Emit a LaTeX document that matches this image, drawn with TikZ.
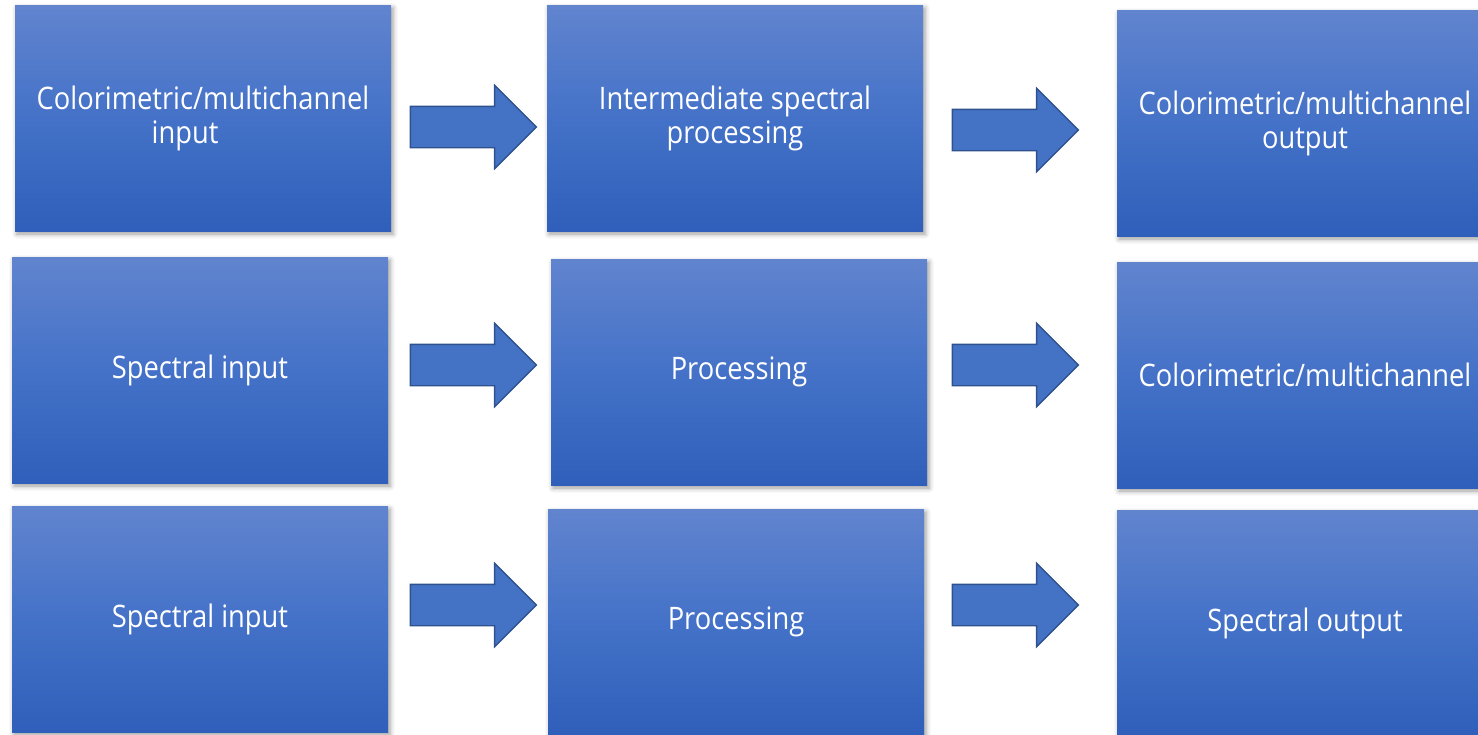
\documentclass[tikz,border=0pt]{standalone}
\usepackage{fontspec}
\setmainfont{Open Sans}[FakeStretch=0.88]
\usepackage{xcolor}
\definecolor{boxtop}{RGB}{97,132,206}
\definecolor{boxmid}{RGB}{68,114,200}
\definecolor{boxbot}{RGB}{47,95,186}
\definecolor{arrowfill}{RGB}{68,114,196}
\definecolor{arrowedge}{RGB}{47,82,143}
\usetikzlibrary{shapes.arrows}
\usetikzlibrary{shadows.blur}
\tikzset{stagebox/.style={rectangle, minimum width=188pt, minimum height=113pt, inner sep=0pt,
			top color=boxtop, bottom color=boxbot, middle color=boxmid, draw=none,
			text=white, align=center, font=\fontsize{15.5pt}{17pt}\selectfont,
			blur shadow={shadow xshift=1pt, shadow yshift=-1.5pt, shadow blur radius=2.5pt, shadow opacity=40}},
	flowarrow/.style={single arrow, draw=arrowedge, fill=arrowfill, line width=0.7pt,
			minimum height=63pt, inner xsep=0pt, inner ysep=10pt,
			single arrow head extend=10.5pt, single arrow tip angle=90}}

\begin{document}
\begin{tikzpicture}[x=0.5pt, y=-0.5pt]
\useasboundingbox (0,0) rectangle (1478,734);

% top row
\node[stagebox] (colin) at (203,118) {Colorimetric/multichannel\\input\hspace*{18pt}};
\node[stagebox] (interproc) at (735,118) {Intermediate spectral\\processing};
\node[stagebox] (colout) at (1305,123) {Colorimetric/multichannel\\output};
\node[flowarrow] (arrA) at (463,127) {};
\node[flowarrow] (arrB) at (1005,130) {};

% middle row
\node[stagebox] (specinA) at (200,370) {Spectral input};
\node[stagebox] (procA) at (739,372) {Processing};
\node[stagebox] (coloutB) at (1305,375) {Colorimetric/multichannel};
\node[flowarrow] (arrC) at (463,365) {};
\node[flowarrow] (arrD) at (1005,365) {};

% bottom row
\node[stagebox] (specinB) at (200,619) {Spectral input};
\node[stagebox] (procB) at (736,622) {Processing};
\node[stagebox] (specout) at (1305,623) {Spectral output};
\node[flowarrow] (arrE) at (463,605) {};
\node[flowarrow] (arrF) at (1005,605) {};
\end{tikzpicture}
\end{document}
